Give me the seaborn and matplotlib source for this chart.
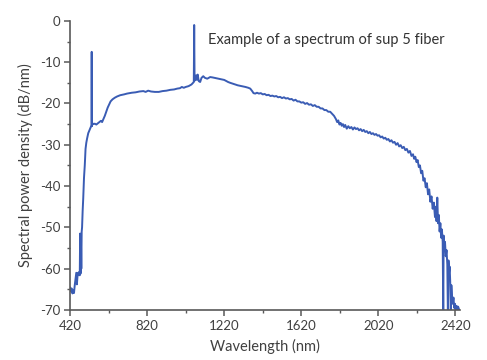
import numpy as np
import pandas as pd
import seaborn as sns
import matplotlib.pyplot as plt
from matplotlib.ticker import MultipleLocator

# wavelength (nm) and spectral power density (dB/nm)
wl_blue = [420, 424, 428, 432, 436, 440, 444, 448, 452, 455, 458, 461, 464, 467, 470,
           472, 474, 476, 478, 480, 482, 485, 488, 492, 496, 500, 504, 508, 514, 520,
           526, 530, 531, 532, 533, 536, 540, 548, 556, 564, 572, 580, 586]
pw_blue = [-64.5, -65.5, -64.8, -66.0, -65.2, -65.9, -64.0, -62.5, -61.0, -63.8, -62.0, -61.0, -61.5, -60.8, -61.6,
           -51.5, -61.2, -52.5, -60.0, -51.0, -50.0, -46.0, -43.0, -38.0, -35.0, -31.0, -29.5, -28.5, -27.2, -26.5,
           -25.8, -25.4, -25.3, -7.5, -25.5, -24.8, -25.0, -24.9, -25.1, -24.8, -24.5, -24.2, -24.5]

wl_vis = [600, 615, 630, 640, 652, 664, 680, 700, 716, 740, 760, 780, 800, 812, 825,
          840, 860, 880, 900, 920, 940, 960, 976, 990, 1000, 1010, 1020, 1035, 1050, 1058,
          1062, 1064, 1066, 1070, 1074, 1078, 1082, 1088, 1095, 1102, 1111, 1120, 1132, 1147, 1160,
          1180, 1200, 1220, 1240, 1251, 1270, 1290, 1310, 1330, 1345, 1355, 1365, 1372, 1381, 1390]
pw_vis = [-23.0, -21.0, -19.5, -19.0, -18.6, -18.3, -18.0, -17.8, -17.6, -17.4, -17.3, -17.1, -17.0, -17.2, -16.9,
          -17.1, -17.2, -17.2, -17.0, -16.9, -16.7, -16.6, -16.4, -16.3, -16.0, -16.2, -16.0, -15.8, -15.4, -15.0,
          -14.8, -1.0, -14.5, -14.0, -13.2, -14.3, -13.0, -14.6, -14.8, -13.8, -13.4, -13.8, -14.0, -13.6, -13.7,
          -13.9, -14.1, -14.3, -14.8, -15.0, -15.3, -15.6, -15.8, -16.0, -16.2, -16.4, -17.0, -17.5, -17.6, -17.4]

wl_ir = [1400, 1410, 1420, 1430, 1440, 1450, 1460, 1470, 1480, 1490, 1500, 1510, 1520, 1530, 1540,
         1550, 1560, 1570, 1580, 1590, 1600, 1610, 1620, 1630, 1640, 1650, 1660, 1670, 1680, 1690,
         1700, 1710, 1720, 1730, 1740, 1750, 1760, 1770, 1780, 1790, 1800, 1806, 1812, 1818, 1824,
         1830, 1836, 1842, 1848, 1856, 1864, 1872, 1880, 1888, 1896, 1904, 1912, 1920, 1928, 1936,
         1944, 1952, 1960, 1968, 1976, 1984, 1992, 2000, 2008, 2016, 2024, 2032, 2040, 2048, 2056,
         2064, 2072, 2080, 2088, 2096, 2104, 2112, 2120, 2128, 2136, 2144, 2152, 2160, 2168, 2176,
         2184, 2192, 2200, 2206, 2212, 2218, 2224, 2230, 2236, 2242, 2248, 2254, 2260, 2266, 2272]
pw_ir = [-17.6, -17.5, -17.8, -17.7, -18.0, -17.9, -18.2, -18.1, -18.3, -18.2, -18.5, -18.4, -18.7, -18.5, -18.8,
         -18.7, -19.0, -18.9, -19.3, -19.1, -19.5, -19.5, -19.8, -19.7, -20.1, -19.9, -20.3, -20.2, -20.6, -20.4,
         -20.8, -20.8, -21.2, -21.2, -21.6, -21.6, -22.0, -22.0, -22.5, -23.0, -23.8, -24.5, -24.1, -25.1, -24.7,
         -25.4, -25.0, -25.7, -25.2, -26.1, -25.5, -26.0, -25.7, -26.3, -25.8, -26.2, -26.0, -26.5, -26.2, -26.7,
         -26.4, -26.9, -26.7, -27.2, -26.9, -27.4, -27.2, -27.6, -27.4, -27.8, -27.7, -28.2, -28.0, -28.5, -28.3,
         -28.8, -28.6, -29.2, -28.9, -29.5, -29.3, -30.0, -29.6, -30.4, -30.1, -30.8, -30.5, -31.3, -31.0, -31.9,
         -31.5, -32.7, -32.3, -33.4, -32.9, -34.2, -33.7, -35.4, -35.0, -36.9, -36.3, -38.7, -38.1, -40.3, -39.3]

wl_edge = [2278, 2284, 2290, 2296, 2302, 2308, 2314, 2318, 2322, 2326, 2330, 2334, 2338, 2342, 2346,
           2350, 2354, 2357, 2359, 2362, 2366, 2370, 2374, 2378, 2381, 2384, 2387, 2390, 2393, 2396,
           2399, 2402, 2406, 2410, 2414, 2418, 2422, 2426, 2430, 2434, 2440]
pw_edge = [-42.0, -40.8, -43.8, -42.5, -45.5, -44.0, -47.5, -45.0, -48.5, -42.8, -49.0, -47.0, -51.0, -49.0, -52.5,
           -50.5, -53.5, -71.0, -52.0, -55.0, -53.5, -57.0, -55.5, -59.0, -71.0, -58.0, -61.0, -59.5, -63.0, -71.0,
           -64.0, -66.5, -68.5, -67.0, -69.5, -68.5, -70.5, -69.0, -69.8, -69.2, -70.0]

df = pd.DataFrame({
    "wavelength": wl_blue + wl_vis + wl_ir + wl_edge,
    "power": pw_blue + pw_vis + pw_ir + pw_edge,
})

sns.set_theme(style="ticks")
plt.rcParams["font.family"] = ["Lato", "DejaVu Sans"]
plt.rcParams["axes.unicode_minus"] = False

grey = "#404040"
fig = plt.figure(figsize=(4.87, 3.6), dpi=100)
ax = fig.add_axes([0.144, 0.139, 0.801, 0.803])

sns.lineplot(data=df, x="wavelength", y="power", estimator=None, sort=False,
             color="#3a5cb4", linewidth=1.4, ax=ax)

ax.set_xlim(420, 2445)
ax.set_ylim(-70, 0)
ax.yaxis.set_major_locator(MultipleLocator(10))
ax.yaxis.set_minor_locator(MultipleLocator(5))
ax.set_xticks([420, 820, 1220, 1620, 2020, 2420])
ax.set_xticks([620, 1020, 1420, 1820, 2220], minor=True)

for s in ["top", "right"]:
    ax.spines[s].set_visible(False)
for s in ["left", "bottom"]:
    ax.spines[s].set_color("#595959")
    ax.spines[s].set_linewidth(1.2)

ax.tick_params(which="major", length=4, width=1.1, color="#595959", labelsize=9.5, labelcolor=grey, pad=3)
ax.tick_params(which="minor", length=2.5, width=1.0, color="#595959")

ax.set_xlabel("Wavelength (nm)", fontsize=10.5, color=grey, labelpad=5)
ax.set_ylabel("Spectral power density (dB/nm)", fontsize=10.5, color=grey, labelpad=5)
ax.text(0.354, 0.934, "Example of a spectrum of sup 5 fiber", transform=ax.transAxes,
        ha="left", va="center", fontsize=10.5, color="#333333")

fig.savefig("out.png", dpi=100)
